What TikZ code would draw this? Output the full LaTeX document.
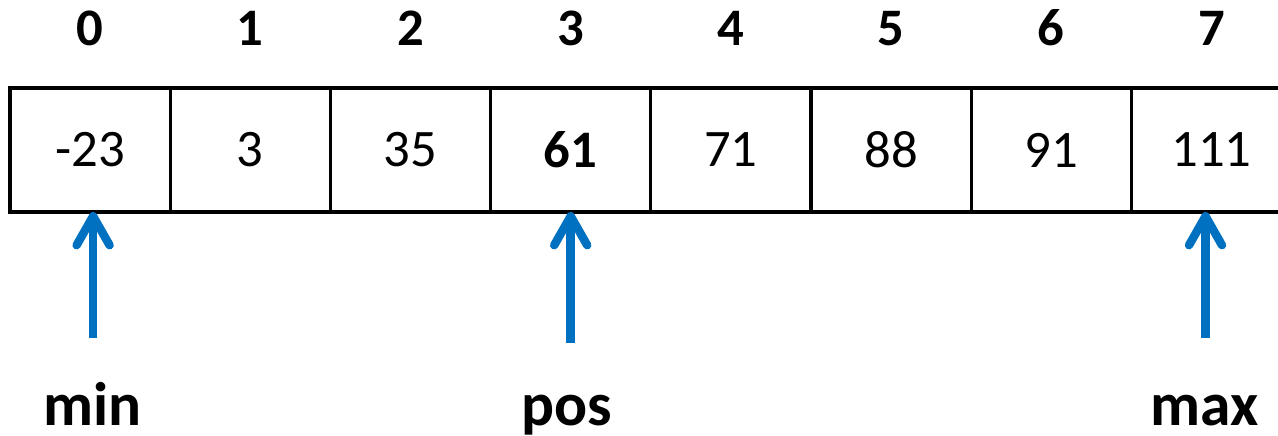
\documentclass[tikz,border=0pt]{standalone}
\usepackage{fontspec}
\setmainfont{Carlito}
\usetikzlibrary{arrows.meta, positioning}
\definecolor{arrowblue}{RGB}{0,112,192}

\begin{document}
\begin{tikzpicture}
  \def\cellsize{1.602cm}
  \def\cellheight{1.24cm}
  \def\rowtop{3.47cm}
  \def\rowleft{0.1cm}

  \tikzset{
    cell/.style={draw, line width=0.9pt, minimum width=\cellsize, minimum height=\cellheight,
      inner sep=0pt, outer sep=0pt, font=\fontsize{15}{18}\selectfont},
    idx/.style={font=\fontsize{15}{18}\selectfont\bfseries, anchor=base},
    pointer/.style={draw=arrowblue, line width=2.4pt, line cap=butt,
      -{Straight Barb[round, length=2.9mm, width=3.3mm]}},
    ptrlabel/.style={font=\fontsize{17.5}{20}\selectfont\bfseries, anchor=base}
  }

  \clip (0,0) rectangle (12.78,4.35);

  % Draw array cells and their indices
  \foreach \i/\val in {0/-23, 1/3, 2/35, 3/\textbf{61}, 4/71, 5/88, 6/91, 7/111}{
    \node[cell] (c\i) at (\rowleft+\i*\cellsize+0.5*\cellsize, \rowtop-0.5*\cellheight) {\val};
    \node[idx] (i\i) at ([yshift=0.43cm]c\i.north) {\i};
  }

  % Draw pointers under the cells
  \foreach \i/\name/\len/\dx/\lx in {0/min/1.26/0.03/0.02, 3/pos/1.31/0/-0.04, 7/max/1.26/-0.06/-0.07}{
    \coordinate (t\name) at ([xshift=\dx cm, yshift=-\len cm]c\i.south);
    \coordinate (h\name) at ([xshift=\dx cm]c\i.south);
    \draw[pointer] (t\name) -- (h\name);
    \node[ptrlabel] (l\name) at ([xshift=\lx cm, yshift=-2.13cm]c\i.south) {\name};
  }

\end{tikzpicture}
\end{document}
